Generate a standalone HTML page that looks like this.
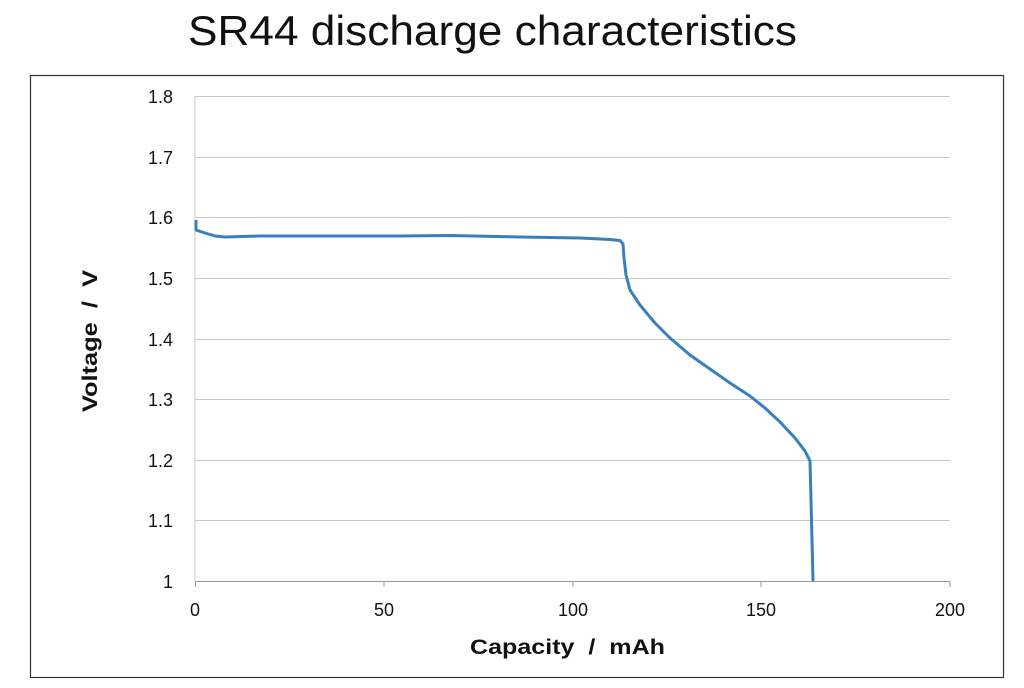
<!DOCTYPE html>
<html><head><style>
body{margin:0;background:#fff;width:1024px;height:683px;overflow:hidden;font-family:"Liberation Sans",sans-serif;}
</style></head><body>
<svg width="1024" height="683" viewBox="0 0 1024 683" xmlns="http://www.w3.org/2000/svg">
<text x="188" y="45" textLength="609" lengthAdjust="spacingAndGlyphs" font-family="Liberation Sans, sans-serif" font-size="42" fill="#111">SR44 discharge characteristics</text>
<rect x="30.5" y="75.5" width="973" height="602" fill="none" stroke="#333" stroke-width="1.2"/>
<g stroke="#c8c8c8" stroke-width="1">
<line x1="195" y1="96.5" x2="950" y2="96.5"/>
<line x1="195" y1="157.5" x2="950" y2="157.5"/>
<line x1="195" y1="217.5" x2="950" y2="217.5"/>
<line x1="195" y1="278.5" x2="950" y2="278.5"/>
<line x1="195" y1="339.5" x2="950" y2="339.5"/>
<line x1="195" y1="399.5" x2="950" y2="399.5"/>
<line x1="195" y1="460.5" x2="950" y2="460.5"/>
<line x1="195" y1="520.5" x2="950" y2="520.5"/>
<line x1="195" y1="96" x2="195" y2="581"/>
</g>
<line x1="195" y1="581.5" x2="950" y2="581.5" stroke="#999" stroke-width="1"/>
<g stroke="#999">
<line x1="195.5" y1="581" x2="195.5" y2="587"/><line x1="384" y1="581" x2="384" y2="587"/><line x1="573" y1="581" x2="573" y2="587"/><line x1="761" y1="581" x2="761" y2="587"/><line x1="950" y1="581" x2="950" y2="587"/>
</g>
<g font-size="18" fill="#111" text-anchor="end">
<text x="173" y="103">1.8</text><text x="173" y="164">1.7</text><text x="173" y="224">1.6</text><text x="173" y="285">1.5</text><text x="173" y="346">1.4</text><text x="173" y="406">1.3</text><text x="173" y="467">1.2</text><text x="173" y="527">1.1</text><text x="173" y="588">1</text>
</g>
<g font-size="18" fill="#111" text-anchor="middle">
<text x="195" y="616">0</text><text x="384" y="616">50</text><text x="573" y="616">100</text><text x="761" y="616">150</text><text x="950" y="616">200</text>
</g>
<text x="470" y="654" textLength="195" lengthAdjust="spacingAndGlyphs" font-size="21" font-weight="bold" fill="#111" xml:space="preserve">Capacity  /  mAh</text>
<text transform="translate(97,412) rotate(-90)" textLength="142" lengthAdjust="spacingAndGlyphs" font-size="21" font-weight="bold" fill="#111" xml:space="preserve">Voltage  /  V</text>
<path d="M196,220 L196,230 L205,233 L215,236 L225,237 L260,236 L400,236 L450,235.5 L520,237 L580,238 L610,239.5 L620,240.5 L623,244 L624,258 L626,275 L630,290 L640,305 L655,323 L670,338 L690,355 L710,369 L730,383 L750,396 L765,408 L780,422 L795,438 L805,451 L810,461 L811,500 L812,540 L813,581" fill="none" stroke="#3a7fbd" stroke-width="3" stroke-linejoin="round"/>
</svg>
</body></html>
